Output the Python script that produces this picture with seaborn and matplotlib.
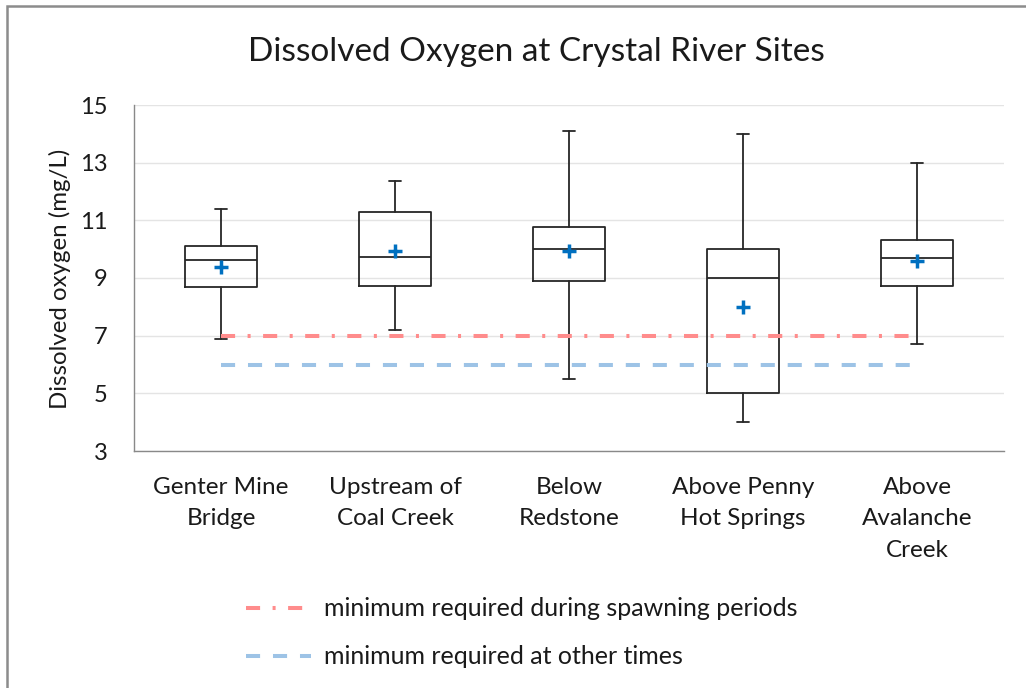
import matplotlib
matplotlib.use("Agg")
import matplotlib.pyplot as plt
import seaborn as sns
from matplotlib.patches import Rectangle

# ---------------- data ----------------
sites = ["Genter Mine\nBridge", "Upstream of\nCoal Creek", "Below\nRedstone",
         "Above Penny\nHot Springs", "Above\nAvalanche\nCreek"]
whisker_low = [6.9, 7.2, 5.5, 4.0, 6.7]
q1 = [8.68, 8.72, 8.9, 5.0, 8.72]
median = [9.61, 9.74, 10.0, 9.0, 9.69]
q3 = [10.12, 11.29, 10.76, 10.0, 10.32]
whisker_high = [11.38, 12.36, 14.11, 14.0, 13.0]
means = [9.38, 9.94, 9.95, 7.98, 9.59]
spawning_min = [7, 7, 7, 7, 7]
other_min = [6, 6, 6, 6, 6]
y_ticks = [3, 5, 7, 9, 11, 13, 15]
title = "Dissolved Oxygen at Crystal River Sites"
ylabel = "Dissolved oxygen (mg/L)"
legend_labels = ["minimum required during spawning periods", "minimum required at other times"]

# ---------------- style ----------------
sns.set_theme(style="white")
plt.rcParams['font.family'] = ['Lato', 'DejaVu Sans']
TXT = "#1a1a1a"
AX = "#898989"

fig = plt.figure(figsize=(10.26, 6.88), dpi=100)
ax = fig.add_axes([134/1026, 1-451/688, 870/1026, 346/688])

positions = list(range(len(sites)))
stats = [dict(whislo=a, q1=b, med=c, q3=d, whishi=e, fliers=[], label=s)
         for a, b, c, d, e, s in zip(whisker_low, q1, median, q3, whisker_high, sites)]
lp = dict(color="#262626", linewidth=1.3)
ax.bxp(stats, positions=positions, widths=0.41, capwidths=0.065, showfliers=False,
       boxprops=lp, whiskerprops=lp, capprops=lp, medianprops=lp, manage_ticks=False)

sns.lineplot(x=positions, y=spawning_min, ax=ax, color="#FF8C8C", linewidth=2.9,
             linestyle=(0, (3.5, 3.1, 0.75, 3.1)), label=legend_labels[0], zorder=3)
sns.lineplot(x=positions, y=other_min, ax=ax, color="#9DC3E6", linewidth=2.9,
             linestyle=(0, (3.5, 3.2)), label=legend_labels[1], zorder=3)
sns.scatterplot(x=positions, y=means, ax=ax, marker="+", s=110, color="#0070C0",
                linewidth=2.5, zorder=5)

ax.set_xlim(-0.5, len(sites) - 0.5)
ax.set_ylim(3, 15)
ax.set_yticks(y_ticks)
ax.set_yticklabels([str(t) for t in y_ticks])
ax.set_xticks(positions)
ax.set_xticklabels(sites, fontsize=17.5, color=TXT, linespacing=1.63)
ax.set_xticks([p - 0.5 for p in positions] + [positions[-1] + 0.5], minor=True)
ax.tick_params(axis="x", which="major", length=0, pad=18.5)
ax.tick_params(axis="x", which="minor", length=9, width=1, color=AX, direction="out")
ax.tick_params(axis="y", length=9, width=1, color=AX, direction="out", labelsize=17,
               labelcolor=TXT, pad=10)
ax.set_xlabel("")
ax.set_ylabel("")
ax.yaxis.grid(True, color="#E4E4E4", linewidth=1)
ax.set_axisbelow(True)
for s in ["top", "right"]:
    ax.spines[s].set_visible(False)
for s in ["left", "bottom"]:
    ax.spines[s].set_color(AX)
    ax.spines[s].set_linewidth(1)

fig.text(536/1026, 1-52/688, title, ha="center", va="center", fontsize=24, color=TXT)
fig.text(60/1026, 1-279/688, ylabel, ha="center", va="center", rotation=90,
         fontsize=17.3, color=TXT)

handles, labels = ax.get_legend_handles_labels()
ax.legend(handles, labels, loc="center left", bbox_to_anchor=(246/1026, 1-633/688),
          bbox_transform=fig.transFigure, frameon=False, fontsize=18, handlelength=2.6,
          handletextpad=0.5, labelspacing=1.0, borderpad=0, borderaxespad=0,
          labelcolor=TXT)

fig.patches.append(Rectangle((7/1026, -0.05), 1.2, 1.05 - 6/688, fill=False,
                             edgecolor="#8C8C8C", linewidth=1.8, transform=fig.transFigure))

fig.savefig("out.png", dpi=100, facecolor="white")
